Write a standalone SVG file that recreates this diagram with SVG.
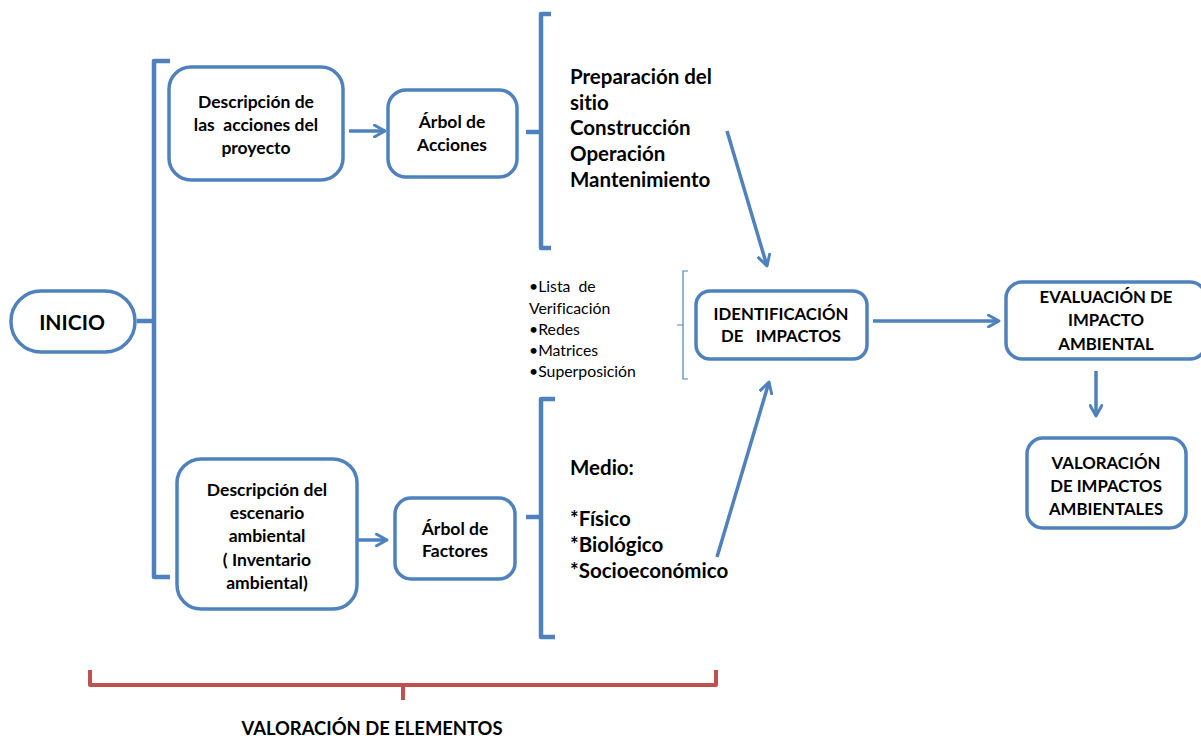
<svg xmlns="http://www.w3.org/2000/svg" width="1201" height="738" viewBox="0 0 1201 738">
<defs>
<style>
.box{fill:#fff;stroke:#4F81BD;stroke-width:3.5}
.br{fill:none;stroke:#4F81BD;stroke-width:4.5;stroke-linejoin:round}
.thin{fill:none;stroke:#4F81BD;stroke-width:1.2}
.red{fill:none;stroke:#C0504D;stroke-width:4;stroke-linejoin:round}
.arr{fill:none;stroke:#4F81BD;stroke-width:3.5;marker-end:url(#ah)}
text{font-family:Lato,"Open Sans","Liberation Sans",sans-serif;fill:#000;white-space:pre;font-variant-ligatures:none}
.b{font-weight:bold}
.c{text-anchor:middle}
</style>
<marker id="ah" viewBox="0 0 12 12" refX="10" refY="6" markerWidth="4" markerHeight="4" orient="auto" markerUnits="strokeWidth">
<path d="M1,1 L10,6 L1,11" fill="none" stroke="#4F81BD" stroke-width="2.5" stroke-linecap="round" stroke-linejoin="round"/>
</marker>
</defs>
<rect width="1201" height="738" fill="#fff"/>

<g id="brackets">
<path class="br" d="M170,61 H154 V577 H170 M137,321 H154"/>
<path class="br" d="M551,14 H541 V248 H551 M526,132 H541"/>
<path class="br" d="M555,399 H541 V637 H555 M526,517 H541"/>
<path class="thin" d="M688,271 H683 V379 H688 M677,325 H683"/>
<path class="red" d="M90,670 V685 H716 V670 M403,685 V700"/>
</g>

<g id="connectors">
<line class="arr" x1="349" y1="131" x2="385" y2="131"/>
<line class="arr" x1="727" y1="131" x2="767" y2="266"/>
<line class="arr" x1="873" y1="321" x2="999" y2="321"/>
<line class="arr" x1="1096" y1="371" x2="1096" y2="416"/>
<line class="arr" x1="357" y1="540" x2="387" y2="540"/>
<line class="arr" x1="717" y1="557" x2="769" y2="382"/>
</g>

<g id="inicio">
<rect class="box" x="11" y="291" width="124" height="61" rx="30"/>
<text class="b c" x="72" y="330" font-size="21">INICIO</text>
</g>

<g id="desc-acciones">
<rect class="box" x="169" y="67" width="174" height="113" rx="22"/>
<text class="b c" font-size="17.5"><tspan x="256" y="108">Descripción de</tspan><tspan x="256" y="131">las  acciones del</tspan><tspan x="256" y="154">proyecto</tspan></text>
</g>

<g id="arbol-acciones">
<rect class="box" x="388" y="90" width="129" height="87" rx="18"/>
<text class="b c" font-size="17.5"><tspan x="452" y="128">Árbol de</tspan><tspan x="452" y="151">Acciones</tspan></text>
</g>

<g id="acciones-lista">
<text class="b" font-size="20.5"><tspan x="570" y="84">Preparación del</tspan><tspan x="570" y="110">sitio</tspan><tspan x="570" y="135">Construcción</tspan><tspan x="570" y="161">Operación</tspan><tspan x="570" y="187">Mantenimiento</tspan></text>
</g>

<g id="metodos">
<text font-size="15.8"><tspan x="529" y="292">•Lista  de</tspan><tspan x="529" y="314">Verificación</tspan><tspan x="529" y="335">•Redes</tspan><tspan x="529" y="356">•Matrices</tspan><tspan x="529" y="377">•Superposición</tspan></text>
</g>

<g id="identificacion">
<rect class="box" x="696" y="291" width="171" height="68" rx="14"/>
<text class="b c" font-size="16.8"><tspan x="781" y="320">IDENTIFICACIÓN</tspan><tspan x="781" y="342">DE   IMPACTOS</tspan></text>
</g>

<g id="evaluacion">
<rect class="box" x="1006" y="282" width="200" height="77" rx="16"/>
<text class="b c" font-size="16.8"><tspan x="1106" y="303">EVALUACIÓN DE</tspan><tspan x="1106" y="326">IMPACTO</tspan><tspan x="1106" y="350">AMBIENTAL</tspan></text>
</g>

<g id="valoracion-impactos">
<rect class="box" x="1027" y="438" width="159" height="90" rx="16"/>
<text class="b c" font-size="16.8"><tspan x="1106" y="469">VALORACIÓN</tspan><tspan x="1106" y="492">DE IMPACTOS</tspan><tspan x="1106" y="515">AMBIENTALES</tspan></text>
</g>

<g id="desc-escenario">
<rect class="box" x="177" y="459" width="180" height="150" rx="24"/>
<text class="b c" font-size="17.5"><tspan x="267" y="496">Descripción del</tspan><tspan x="267" y="519">escenario</tspan><tspan x="267" y="542">ambiental</tspan><tspan x="267" y="566">( Inventario</tspan><tspan x="267" y="589">ambiental)</tspan></text>
</g>

<g id="arbol-factores">
<rect class="box" x="395" y="498" width="120" height="81" rx="16"/>
<text class="b c" font-size="17.5"><tspan x="455" y="535">Árbol de</tspan><tspan x="455" y="557">Factores</tspan></text>
</g>

<g id="factores-lista">
<text class="b" font-size="20.5"><tspan x="570" y="475">Medio:</tspan><tspan x="570" y="526">*Físico</tspan><tspan x="570" y="552">*Biológico</tspan><tspan x="570" y="578">*Socioeconómico</tspan></text>
</g>

<g id="valoracion-elementos">
<text class="b c" x="372" y="735" font-size="18.4">VALORACIÓN DE ELEMENTOS</text>
</g>
</svg>
